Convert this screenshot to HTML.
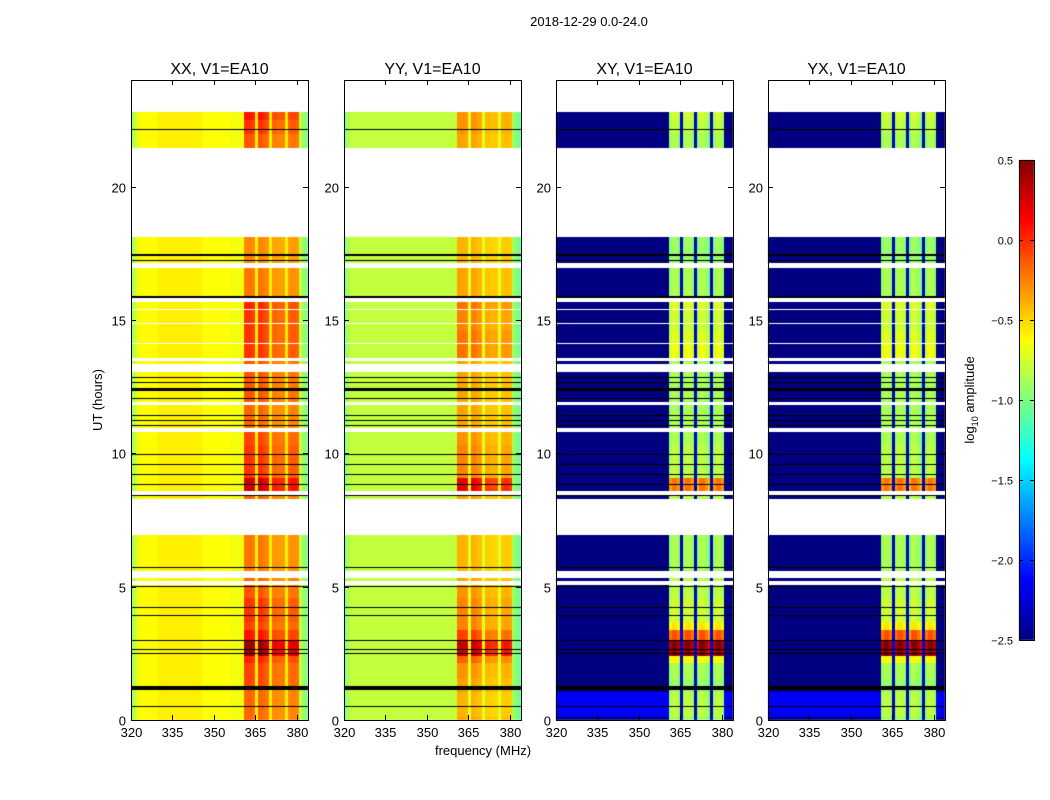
<!DOCTYPE html>
<html><head><meta charset="utf-8"><style>
body{margin:0;background:#fff;}
#wrap{position:relative;width:1050px;height:800px;font-family:"Liberation Sans",sans-serif;}
canvas,svg{position:absolute;left:0;top:0;}
</style></head><body>
<div id="wrap">
<canvas id="cv" width="1050" height="800"></canvas>
<svg id="sv" width="1050" height="800"></svg>
</div>
<script>
// ---- data ----
const panelTitles = ["XX, V1=EA10","YY, V1=EA10","XY, V1=EA10","YX, V1=EA10"];
const freqTicks = [320,335,350,365,380];
const timeTicks = [0,5,10,15,20];
const cbarTicks = [0.5,0.0,-0.5,-1.0,-1.5,-2.0,-2.5];
const freqBins = [320,321,322,323,324,325,326,327,328,329,330,331,332,333,334,335,336,337,338,339,340,341,342,343,344,345,346,347,348,349,350,351,352,353,354,355,356,357,358,359,360,361,362,363,364,365,366,367,368,369,370,371,372,373,374,375,376,377,378,379,380,381,382,383];
const bandWeight = [0,0,0,0,0,0,0,0,0,0,0,0,0,0,0,0,0,0,0,0,0,0,0,0,0,0,0,0,0,0,0,0,0,0,0,0,0,0,0,0,0,1,1,1,0.95,0.1,1,1,0.9,0.85,0.1,0.75,0.75,0.7,0.7,0.7,0.1,0.75,0.8,0.8,0.75,0,0,0];
const crossWeight = [0,0,0,0,0,0,0,0,0,0,0,0,0,0,0,0,0,0,0,0,0,0,0,0,0,0,0,0,0,0,0,0,0,0,0,0,0,0,0,0,0,0.95,1,1,0.95,0.1,0.95,1,1,0.95,0.1,0.9,1,1,0.95,0.9,0.1,0.95,1,1,0.95,0,0,0];
const baseXX = [-0.95,-0.8,-0.7,-0.62,-0.62,-0.62,-0.62,-0.62,-0.62,-0.62,-0.58,-0.58,-0.58,-0.58,-0.58,-0.58,-0.58,-0.58,-0.58,-0.58,-0.58,-0.58,-0.58,-0.58,-0.58,-0.58,-0.63,-0.63,-0.63,-0.63,-0.63,-0.63,-0.63,-0.63,-0.63,-0.63,-0.66,-0.66,-0.66,-0.66,-0.66,-0.62,-0.62,-0.62,-0.62,-0.62,-0.62,-0.62,-0.62,-0.62,-0.62,-0.62,-0.62,-0.62,-0.62,-0.62,-0.62,-0.62,-0.62,-0.62,-0.62,-0.8,-0.92,-1.0];
const baseYY = [-1.0,-0.92,-0.8,-0.8,-0.8,-0.8,-0.8,-0.8,-0.8,-0.8,-0.8,-0.8,-0.8,-0.8,-0.8,-0.8,-0.8,-0.8,-0.8,-0.8,-0.8,-0.8,-0.8,-0.8,-0.8,-0.8,-0.8,-0.8,-0.8,-0.8,-0.8,-0.8,-0.8,-0.8,-0.8,-0.8,-0.8,-0.8,-0.8,-0.8,-0.8,-0.75,-0.75,-0.75,-0.75,-0.75,-0.75,-0.75,-0.75,-0.75,-0.75,-0.75,-0.75,-0.75,-0.75,-0.75,-0.75,-0.75,-0.75,-0.75,-0.75,-0.9,-1.0,-1.05];
const baseCross = [-2.5,-2.5,-2.5,-2.5,-2.5,-2.5,-2.5,-2.5,-2.5,-2.5,-2.5,-2.5,-2.5,-2.5,-2.5,-2.5,-2.5,-2.5,-2.5,-2.5,-2.5,-2.5,-2.5,-2.5,-2.5,-2.5,-2.5,-2.5,-2.5,-2.5,-2.5,-2.5,-2.5,-2.5,-2.5,-2.5,-2.5,-2.5,-2.5,-2.5,-2.5,-2.5,-2.5,-2.5,-2.5,-2.5,-2.5,-2.5,-2.5,-2.5,-2.5,-2.5,-2.5,-2.5,-2.5,-2.5,-2.5,-2.5,-2.5,-2.5,-2.5,-2.5,-2.5,-2.5];
const segStart = [0,0.14,1.07,1.27,1.55,2.15,2.4,3.0,3.39,3.69,4.59,5.24,5.62,6.62,8.31,8.61,9.1,10.32,10.95,11.95,12.43,13.37,13.6,14.14,14.62,14.89,15.45,15.9,16.82,17.16,17.66,17.89,21.46,22.0,22.52];
const segEnd   = [0.1,1.03,1.12,1.51,2.11,2.4,3.0,3.35,3.65,4.55,5.06,5.31,6.58,6.93,8.43,9.1,10.28,10.8,11.8,12.32,13.03,13.45,14.1,14.58,14.85,15.35,15.65,16.78,16.93,17.62,17.86,18.1,21.97,22.48,22.77];
const boostXX  = [0.45,0.45,0.45,0.55,0.55,0.65,1.05,0.7,0.55,0.6,0.5,0.45,0.4,0.4,0.45,0.9,0.6,0.55,0.45,0.5,0.5,0.5,0.6,0.6,0.6,0.6,0.65,0.4,0.4,0.35,0.35,0.35,0.5,0.6,0.7];
const boostYY  = [0.4,0.35,0.4,0.4,0.45,0.6,1.05,0.7,0.5,0.5,0.45,0.4,0.35,0.35,0.4,0.95,0.5,0.45,0.4,0.4,0.4,0.4,0.55,0.55,0.5,0.5,0.55,0.4,0.4,0.35,0.35,0.35,0.4,0.45,0.45];
const boostXY  = [1.6,1.7,1.6,1.6,1.65,1.9,3.0,2.4,1.95,1.75,1.7,1.7,1.65,1.65,1.7,2.3,1.7,1.65,1.65,1.65,1.65,1.65,1.85,1.8,1.75,1.75,1.8,1.65,1.65,1.6,1.6,1.6,1.65,1.7,1.75];
const boostYX  = [1.6,1.7,1.6,1.6,1.65,1.9,3.0,2.4,1.95,1.75,1.7,1.7,1.65,1.65,1.7,2.3,1.7,1.65,1.65,1.65,1.65,1.65,1.85,1.8,1.75,1.75,1.8,1.65,1.65,1.6,1.6,1.6,1.65,1.7,1.75];
const crossShift = [0,0.35,0,0,0,0,0,0,0,0,0,0,0,0,0,0,0,0,0,0,0,0,0,0,0,0,0,0,0,0,0,0,0,0,0];
const blackLineHours = [0.5,1.2,2.5,2.66,3.0,3.93,4.23,5.02,5.73,8.43,8.84,9.2,9.57,9.96,11.05,11.24,11.42,12.06,12.38,12.66,12.85,15.88,17.23,17.42,22.13];
const blackLineWidth = [1,4,1,1,1,1,1,1,1,1,1,1,1,1,1,1,1,1,3,1,1,2,1,2,1];

// ---- layout ----
const panelLeft = [131,344,556,768];
const PW=177, PT=80, PB=720, F0=320, F1=384, T0=0, T1=24;
const VMIN=-2.5, VMAX=0.5;
function xs(i,f){return panelLeft[i]+(f-F0)/(F1-F0)*PW;}
function ys(h){return PB-(h-T0)/(T1-T0)*(PB-PT);}
function jet(v){
  let t=Math.max(0,Math.min(1,(v-VMIN)/(VMAX-VMIN)));
  const c=x=>Math.max(0,Math.min(1,x));
  const r=c(1.5-Math.abs(4*t-3)), g=c(1.5-Math.abs(4*t-2)), b=c(1.5-Math.abs(4*t-1));
  return `rgb(${Math.round(r*255)},${Math.round(g*255)},${Math.round(b*255)})`;
}
const bases=[baseXX,baseYY,baseCross,baseCross];
const boosts=[boostXX,boostYY,boostXY,boostYX];
const weights=[bandWeight,bandWeight,crossWeight,crossWeight];

const cv=document.getElementById('cv'), ctx=cv.getContext('2d');
for(let p=0;p<4;p++){
  for(let s=0;s<segStart.length;s++){
    const y0=ys(segEnd[s]), y1=ys(segStart[s]);
    for(let k=0;k<freqBins.length;k++){
      const x0=xs(p,freqBins[k]), x1=xs(p,freqBins[k]+1);
      let v=bases[p][k]+weights[p][k]*boosts[p][s];
      if(p>=2 && weights[p][k]===0) v+=crossShift[s];
      ctx.fillStyle=jet(v);
      ctx.fillRect(Math.floor(x0),Math.floor(y0),Math.ceil(x1)-Math.floor(x0),Math.ceil(y1)-Math.floor(y0));
    }
  }
  ctx.fillStyle='#000';
  for(let b=0;b<blackLineHours.length;b++){
    const y=ys(blackLineHours[b]);
    ctx.fillRect(panelLeft[p],Math.round(y-blackLineWidth[b]/2),PW,blackLineWidth[b]);
  }
}
// colorbar
const CBX=1019,CBW=15,CBT=160,CBB=640;
for(let y=CBT;y<CBB;y++){
  const v=VMAX-(y-CBT+0.5)/(CBB-CBT)*(VMAX-VMIN);
  ctx.fillStyle=jet(v);ctx.fillRect(CBX,y,CBW,1);
}

// ---- SVG axes ----
const NS='http://www.w3.org/2000/svg';
const sv=document.getElementById('sv');
function el(tag,attrs,parent,text){
  const e=document.createElementNS(NS,tag);
  for(const k in attrs)e.setAttribute(k,attrs[k]);
  if(text!==undefined)e.textContent=text;
  (parent||sv).appendChild(e);return e;
}
const sup=el('text',{x:589,y:26,'text-anchor':'middle','font-size':13,fill:'#000'},sv,'2018-12-29 0.0-24.0');


for(let p=0;p<4;p++){
  const g=el('g',{});
  
  
  const L=panelLeft[p];
  const fr=el('rect',{x:L+0.5,y:PT+0.5,width:PW,height:PB-PT,fill:'none',stroke:'#000','stroke-width':1},g);
  
  
  const tt=el('text',{x:L+PW/2,y:74,'text-anchor':'middle','font-size':16,fill:'#000'},g,panelTitles[p]);
  
  
  for(const f of freqTicks){
    const x=Math.round(xs(p,f))+0.5;
    el('line',{x1:x,x2:x,y1:PB,y2:PB-5,stroke:'#000'},g);
    el('line',{x1:x,x2:x,y1:PT,y2:PT+5,stroke:'#000'},g);
    const t=el('text',{x:x,y:PB+17,'text-anchor':'middle','font-size':13,fill:'#000'},g,String(f));
    
    
  }
  for(const h of timeTicks){
    const y=Math.round(ys(h))+0.5;
    el('line',{x1:L,x2:L+5,y1:y,y2:y,stroke:'#000'},g);
    el('line',{x1:L+PW,x2:L+PW-5,y1:y,y2:y,stroke:'#000'},g);
    const t=el('text',{x:L-5,y:y+5,'text-anchor':'end','font-size':13,fill:'#000'},g,String(h));
    
    
  }
}
const xl=el('text',{x:483,y:755,'text-anchor':'middle','font-size':13,fill:'#000'},sv,'frequency (MHz)');


const yl=el('text',{x:0,y:0,'text-anchor':'middle','font-size':13,fill:'#000',transform:'translate(102,400) rotate(-90)'},sv,'UT (hours)');


const cbf=el('rect',{x:CBX+0.5,y:CBT+0.5,width:CBW,height:CBB-CBT,fill:'none',stroke:'#000'});


for(const v of cbarTicks){
  const y=Math.round(CBT+(VMAX-v)/(VMAX-VMIN)*(CBB-CBT))+0.5;
  el('line',{x1:CBX,x2:CBX+4,y1:y,y2:y,stroke:'#000'});
  el('line',{x1:CBX+CBW,x2:CBX+CBW-4,y1:y,y2:y,stroke:'#000'});
  const t=el('text',{x:1013,y:y+4,'text-anchor':'end','font-size':11,fill:'#000'},sv,(v<0?'\u2212':'')+Math.abs(v).toFixed(1));
  
  
}
const cl=el('text',{x:0,y:0,'text-anchor':'middle','font-size':13,fill:'#000',transform:'translate(974,400) rotate(-90)'});


cl.appendChild(document.createTextNode('log'));
el('tspan',{'font-size':9,dy:4},cl,'10');
el('tspan',{dy:-4},cl,' amplitude');
</script>
</body></html>
